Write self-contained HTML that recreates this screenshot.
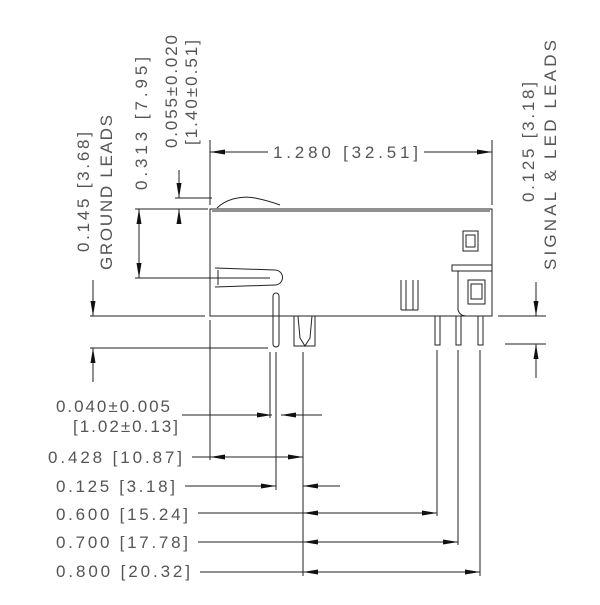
<!DOCTYPE html>
<html><head><meta charset="utf-8"><style>html,body{margin:0;padding:0;background:#fff}</style></head>
<body>
<svg width="600" height="600" viewBox="0 0 600 600" xmlns="http://www.w3.org/2000/svg">
<defs>
<marker id="a" viewBox="0 0 15 5" refX="15" refY="2.5" markerWidth="15" markerHeight="5" orient="auto-start-reverse" markerUnits="userSpaceOnUse"><path d="M0,0 L15,2.5 L0,5 Z" fill="#111"/></marker>
</defs>
<g stroke="#222" stroke-width="1" fill="none">
<rect x="210" y="209" width="282" height="107"/>
<line x1="212" y1="211" x2="490" y2="211"/>
<path d="M217,208 C225,200 240,195 255,198 C265,200 272,202 280,205"/>
<path d="M215,268 L275,270 A6,6 0 0 1 275,285 L215,287"/>
<line x1="218" y1="270" x2="218" y2="285"/>
<rect x="273" y="293" width="6" height="54" rx="3"/>
<rect x="294" y="316" width="21" height="30"/>
<path d="M298,316 L300,338 L305,346 L310,338 L312,316"/>
<rect x="463" y="231" width="15" height="20"/><rect x="466" y="235" width="9" height="12"/>
<rect x="468" y="280" width="17" height="24"/><rect x="471" y="284" width="11" height="15"/>
<rect x="452" y="265" width="40" height="6"/>
<path d="M458,271 L458,310 Q460,316 466,316"/>
<path d="M401,280 L401,310 M406,280 L406,310 M418,280 L418,310 M413,280 L413,310 M401,310 L418,310"/>
<rect x="435" y="316" width="5" height="29"/><rect x="456" y="316" width="5" height="29"/><rect x="478" y="316" width="5" height="29"/>
<line x1="210" y1="140" x2="210" y2="205"/><line x1="492" y1="140" x2="492" y2="205"/>
<line x1="210" y1="152" x2="268" y2="152" marker-start="url(#a)"/>
<line x1="424" y1="152" x2="492" y2="152" marker-end="url(#a)"/>
<line x1="175" y1="198" x2="212" y2="198"/><line x1="135" y1="209" x2="208" y2="209"/>
<line x1="179" y1="170" x2="179" y2="198" marker-end="url(#a)"/>
<line x1="179" y1="224" x2="179" y2="209" marker-end="url(#a)"/>
<line x1="139" y1="209" x2="139" y2="278" marker-start="url(#a)" marker-end="url(#a)"/>
<line x1="135" y1="278" x2="270" y2="278"/>
<line x1="90" y1="316" x2="205" y2="316"/><line x1="90" y1="348" x2="268" y2="348"/>
<line x1="93" y1="280" x2="93" y2="316" marker-end="url(#a)"/>
<line x1="93" y1="382" x2="93" y2="348" marker-end="url(#a)"/>
<line x1="498" y1="316" x2="546" y2="316"/><line x1="505" y1="344" x2="546" y2="344"/>
<line x1="536" y1="282" x2="536" y2="316" marker-end="url(#a)"/>
<line x1="536" y1="378" x2="536" y2="344" marker-end="url(#a)"/>
<line x1="210" y1="320" x2="210" y2="460"/>
<line x1="270" y1="352" x2="270" y2="418"/>
<line x1="276" y1="352" x2="276" y2="490"/>
<line x1="303" y1="352" x2="303" y2="576"/>
<line x1="437" y1="350" x2="437" y2="516"/>
<line x1="458" y1="350" x2="458" y2="545"/>
<line x1="480" y1="350" x2="480" y2="576"/>
<line x1="182" y1="415" x2="272" y2="415" marker-end="url(#a)"/>
<line x1="322" y1="415" x2="281" y2="415" marker-end="url(#a)"/>
<line x1="192" y1="457" x2="210" y2="457"/>
<line x1="210" y1="457" x2="303" y2="457" marker-start="url(#a)" marker-end="url(#a)"/>
<line x1="185" y1="486" x2="276" y2="486" marker-end="url(#a)"/>
<line x1="340" y1="486" x2="303" y2="486" marker-end="url(#a)"/>
<line x1="198" y1="513" x2="303" y2="513"/>
<line x1="303" y1="513" x2="437" y2="513" marker-start="url(#a)" marker-end="url(#a)"/>
<line x1="198" y1="542" x2="303" y2="542"/>
<line x1="303" y1="542" x2="458" y2="542" marker-start="url(#a)" marker-end="url(#a)"/>
<line x1="200" y1="572" x2="303" y2="572"/>
<line x1="303" y1="572" x2="480" y2="572" marker-start="url(#a)" marker-end="url(#a)"/>
</g>
<g font-family="Liberation Sans, sans-serif" font-size="17" fill="#555" lengthAdjust="spacing">
<text x="273" y="158" textLength="145">1.280 [32.51]</text>
<text x="56" y="412" textLength="114">0.040±0.005</text>
<text x="73" y="432" textLength="105">[1.02±0.13]</text>
<text x="48" y="463" textLength="134">0.428  [10.87]</text>
<text x="56" y="492" textLength="119">0.125  [3.18]</text>
<text x="56" y="520" textLength="132">0.600  [15.24]</text>
<text x="56" y="548" textLength="132">0.700  [17.78]</text>
<text x="56" y="577" textLength="134">0.800  [20.32]</text>
<text transform="translate(89,252) rotate(-90)" textLength="120">0.145 [3.68]</text>
<text transform="translate(112,270) rotate(-90)" textLength="155">GROUND LEADS</text>
<text transform="translate(147,190) rotate(-90)" textLength="133">0.313 [7.95]</text>
<text transform="translate(177,148) rotate(-90)" textLength="113">0.055±0.020</text>
<text transform="translate(197,145) rotate(-90)" textLength="105">[1.40±0.51]</text>
<text transform="translate(534,202) rotate(-90)" textLength="120">0.125 [3.18]</text>
<text transform="translate(556,270) rotate(-90)" textLength="230">SIGNAL &amp; LED LEADS</text>
</g>
</svg>
</body></html>
